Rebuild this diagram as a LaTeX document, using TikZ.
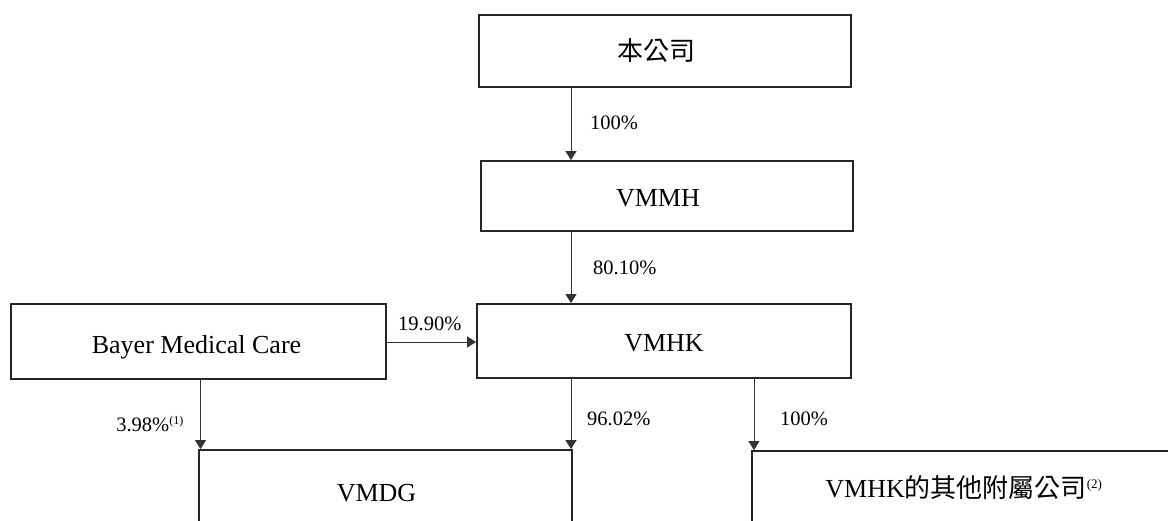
\documentclass[tikz,border=0pt]{standalone}
\usepackage{fontspec}
\setmainfont{Liberation Serif}
\newfontfamily\cjk{Noto Sans CJK TC}
\usetikzlibrary{arrows.meta}
\begin{document}
\begin{tikzpicture}[x=1pt,y=-1pt,
  box/.style={draw=black!85, line width=1.8pt, inner sep=0pt, font=\fontsize{26}{30}\selectfont},
  arr/.style={draw=black!80, line width=0.9pt, -{Triangle[length=9pt,width=11pt]}},
  pct/.style={font=\fontsize{20.5}{24}\selectfont, inner sep=0pt}]
\clip (0,0) rectangle (1168,520);
\fill[white] (0,0) rectangle (1168,520);
% boxes
\node[box, minimum width=372pt, minimum height=72pt] (co) at (665,51) {\cjk 本公司\hspace*{18pt}};
\node[box, minimum width=372pt, minimum height=70pt] (vmmh) at (667,196) {\raisebox{0pt}[20pt][0pt]{VMMH}\hspace*{18pt}};
\node[box, minimum width=374pt, minimum height=74pt] (vmhk) at (664,341) {\raisebox{0pt}[20pt][0pt]{VMHK}};
\node[box, minimum width=375pt, minimum height=75pt] (bayer) at (198.5,341.5) {\raisebox{0pt}[23pt][0pt]{Bayer Medical Care}\hspace*{4pt}};
\node[box, minimum width=373pt, minimum height=86pt] (vmdg) at (385.5,493) {VMDG\hspace*{18pt}};
\node[box, minimum width=430pt, minimum height=73pt] (oth) at (967,487.5) {VMHK{\cjk 的其他附屬公司}\textsuperscript{\fontsize{13}{14}\selectfont(2)}\hspace*{6pt}};
% connectors
\coordinate (c1) at (571,0);
\coordinate (c3) at (754,0);
\coordinate (c4) at (200.5,0);
\coordinate (h) at (0,342);
\draw[arr] (co.south -| c1) -- (vmmh.north -| c1);
\draw[arr] (vmmh.south -| c1) -- (vmhk.north -| c1);
\draw[arr] (bayer.east |- h) -- (vmhk.west |- h);
\draw[arr] (vmhk.south -| c1) -- (vmdg.north -| c1);
\draw[arr] (vmhk.south -| c3) -- (oth.north -| c3);
\draw[arr] (bayer.south -| c4) -- (vmdg.north -| c4);
% labels
\node[pct, anchor=west] (l1) at (590,123) {100\%};
\node[pct, anchor=west] (l2) at (593,268) {80.10\%};
\node[pct, anchor=west] (l3) at (398,324) {19.90\%};
\node[pct, anchor=east] (l4) at (184,424) {3.98\%\textsuperscript{\fontsize{12}{13}\selectfont(1)}};
\node[pct, anchor=west] (l5) at (587,419) {96.02\%};
\node[pct, anchor=west] (l6) at (780,419) {100\%};
\end{tikzpicture}
\end{document}
